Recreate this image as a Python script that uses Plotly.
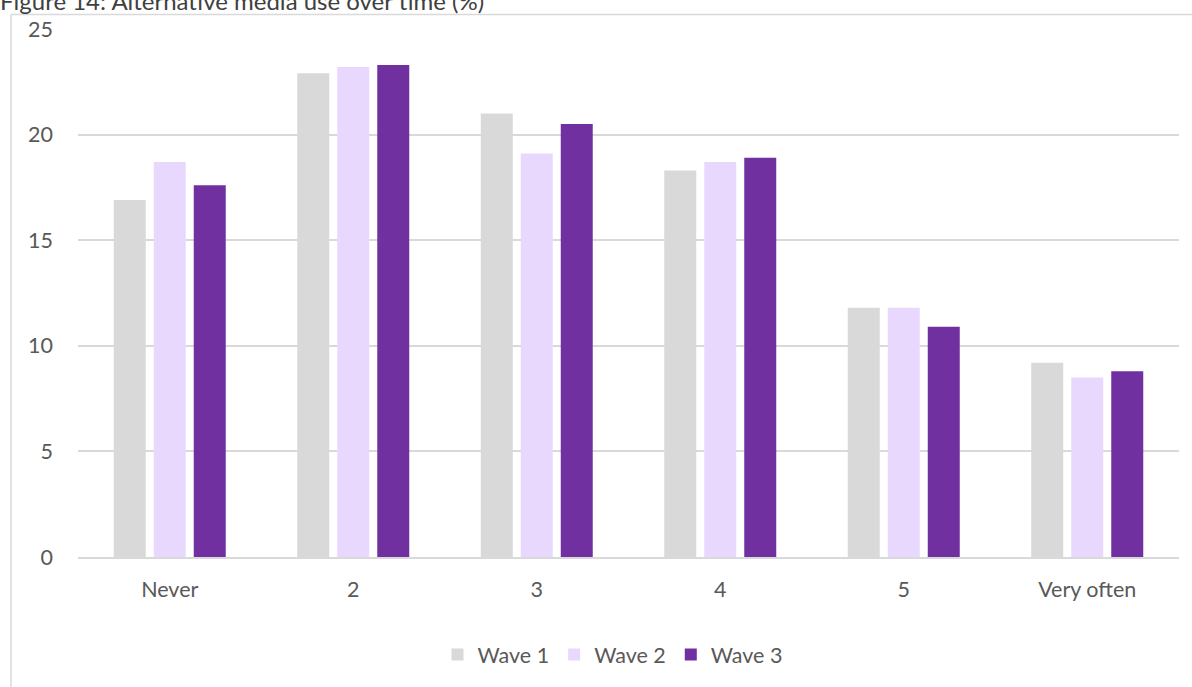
import plotly.graph_objects as go

categories = ["Never", "2", "3", "4", "5", "Very often"]
wave1 = [16.9, 22.9, 21.0, 18.3, 11.8, 9.2]
wave2 = [18.7, 23.2, 19.1, 18.7, 11.8, 8.5]
wave3 = [17.6, 23.3, 20.5, 18.9, 10.9, 8.8]
series_names = ["Wave 1", "Wave 2", "Wave 3"]
colors = ["#d9d9d9", "#e9d8fe", "#7030a0"]
title_text = "Figure 14: Alternative media use over time (%)"

W, H = 1192, 687
L, R, T, B = 78, 1179, 28.5, 559

def px_x(p):
    return (p - L) / (R - L)

def px_y(p):
    return (B - p) / (B - T)

fig = go.Figure()
for name, vals, c in zip(series_names, [wave1, wave2, wave3], colors):
    fig.add_trace(go.Bar(x=categories, y=vals, name=name, marker_color=c,
                         marker_line_width=0))

font_family = "Lato, 'Open Sans', sans-serif"
fs = 21.5
fig.update_layout(
    width=W, height=H,
    margin=dict(l=L, r=W - R, t=T, b=H - B, pad=0),
    paper_bgcolor="white", plot_bgcolor="white",
    barmode="group", bargap=0.346, bargroupgap=0.2,
    font=dict(family=font_family, size=fs, color="#595959"),
    xaxis=dict(showgrid=False, showline=True, linecolor="#d9d9d9", linewidth=1.5,
               ticks="", ticklabelstandoff=12, tickfont=dict(size=fs, color="#595959")),
    yaxis=dict(range=[0, 25], dtick=5, showgrid=True, gridcolor="#d9d9d9", gridwidth=1.5,
               zeroline=False, showline=False, ticks="", ticklabelstandoff=24,
               tickfont=dict(size=fs, color="#595959")),
    legend=dict(orientation="h", x=px_x(612.5), xanchor="center", y=px_y(657), yanchor="middle",
                font=dict(size=fs, color="#595959"), traceorder="normal",
                itemwidth=30, bgcolor="rgba(0,0,0,0)"),
    showlegend=True,
)

# chart border (top and left edges visible)
fig.add_shape(type="line", xref="paper", yref="paper",
              x0=px_x(11), x1=px_x(W + 5), y0=px_y(14), y1=px_y(14),
              line=dict(color="#d9d9d9", width=1.5))
fig.add_shape(type="line", xref="paper", yref="paper",
              x0=px_x(11), x1=px_x(11), y0=px_y(14), y1=px_y(H + 5),
              line=dict(color="#d9d9d9", width=1.5))

fig.add_annotation(text=title_text, xref="paper", yref="paper",
                   x=px_x(-2), xanchor="left", y=px_y(0), yanchor="middle",
                   showarrow=False, font=dict(family=font_family, size=24, color="#404040"))

fig.write_html("out.html")
